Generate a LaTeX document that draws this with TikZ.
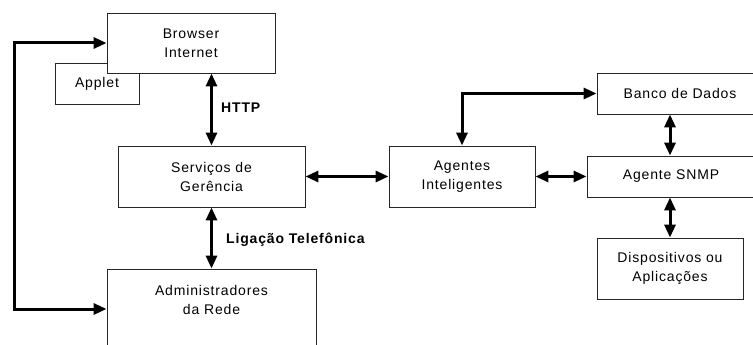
\documentclass[tikz,border=0pt]{standalone}
\usepackage{fontspec}
\setmainfont[LetterSpace=6]{Liberation Sans}
\usetikzlibrary{arrows.meta}
\tikzset{
  box/.style={draw=black!85, line width=0.9pt, fill=white, align=center, inner sep=0pt,
    font=\fontsize{14}{19}\selectfont},
  link/.style={line width=3pt, {Triangle[length=13pt,width=11pt]}-{Triangle[length=13pt,width=11pt]}},
  lbl/.style={font=\fontsize{14}{19}\selectfont\bfseries, anchor=west, inner sep=0pt}
}
\begin{document}
\begin{tikzpicture}[x=1pt,y=-1pt]
\useasboundingbox (0,0) rectangle (753,345);
\clip (0,0) rectangle (753,345);
% boxes
\node[box, minimum width=84pt, minimum height=41pt] (applet) at (97,83.5) {Applet};
\node[box, minimum width=168pt, minimum height=60pt] (browser) at (191,43) {Browser\\Internet};
\node[box, minimum width=187pt, minimum height=61pt] (serv) at (211.5,176.5) {Serviços de\\Gerência};
\node[box, minimum width=209pt, minimum height=80pt] (adm) at (211.5,309) {Administradores\\da Rede\\\mbox{}};
\node[box, minimum width=146pt, minimum height=61pt] (agentes) at (462,176.5) {Agentes\\Inteligentes};
\node[box, minimum width=166pt, minimum height=41pt] (banco) at (680,93.5) {Banco de Dados};
\node[box, minimum width=168pt, minimum height=41pt] (snmp) at (671,176.5) {Agente SNMP};
\node[box, minimum width=146pt, minimum height=61pt] (disp) at (670,268.5) {Dispositivos ou\\Aplicações};
\coordinate (lx) at (14,0);
% connectors
\draw[link] (browser.south -| serv.north) -- (serv.north);
\draw[link] (serv.south) -- (adm.north);
\draw[link] (browser.west) -- (browser.west -| lx) -- (adm.west -| lx) -- (adm.west);
\draw[link] (serv.east) -- (agentes.west);
\draw[link] (agentes.east) -- (snmp.west);
\draw[link] (agentes.north) |- (banco.west);
\draw[link] (banco.south -| disp.north) -- (snmp.north -| disp.north);
\draw[link] (snmp.south -| disp.north) -- (disp.north);
% labels
\node[lbl] (http) at (221,108) {HTTP};
\node[lbl] (tel) at (226,240) {Ligação Telefônica};
\end{tikzpicture}
\end{document}
